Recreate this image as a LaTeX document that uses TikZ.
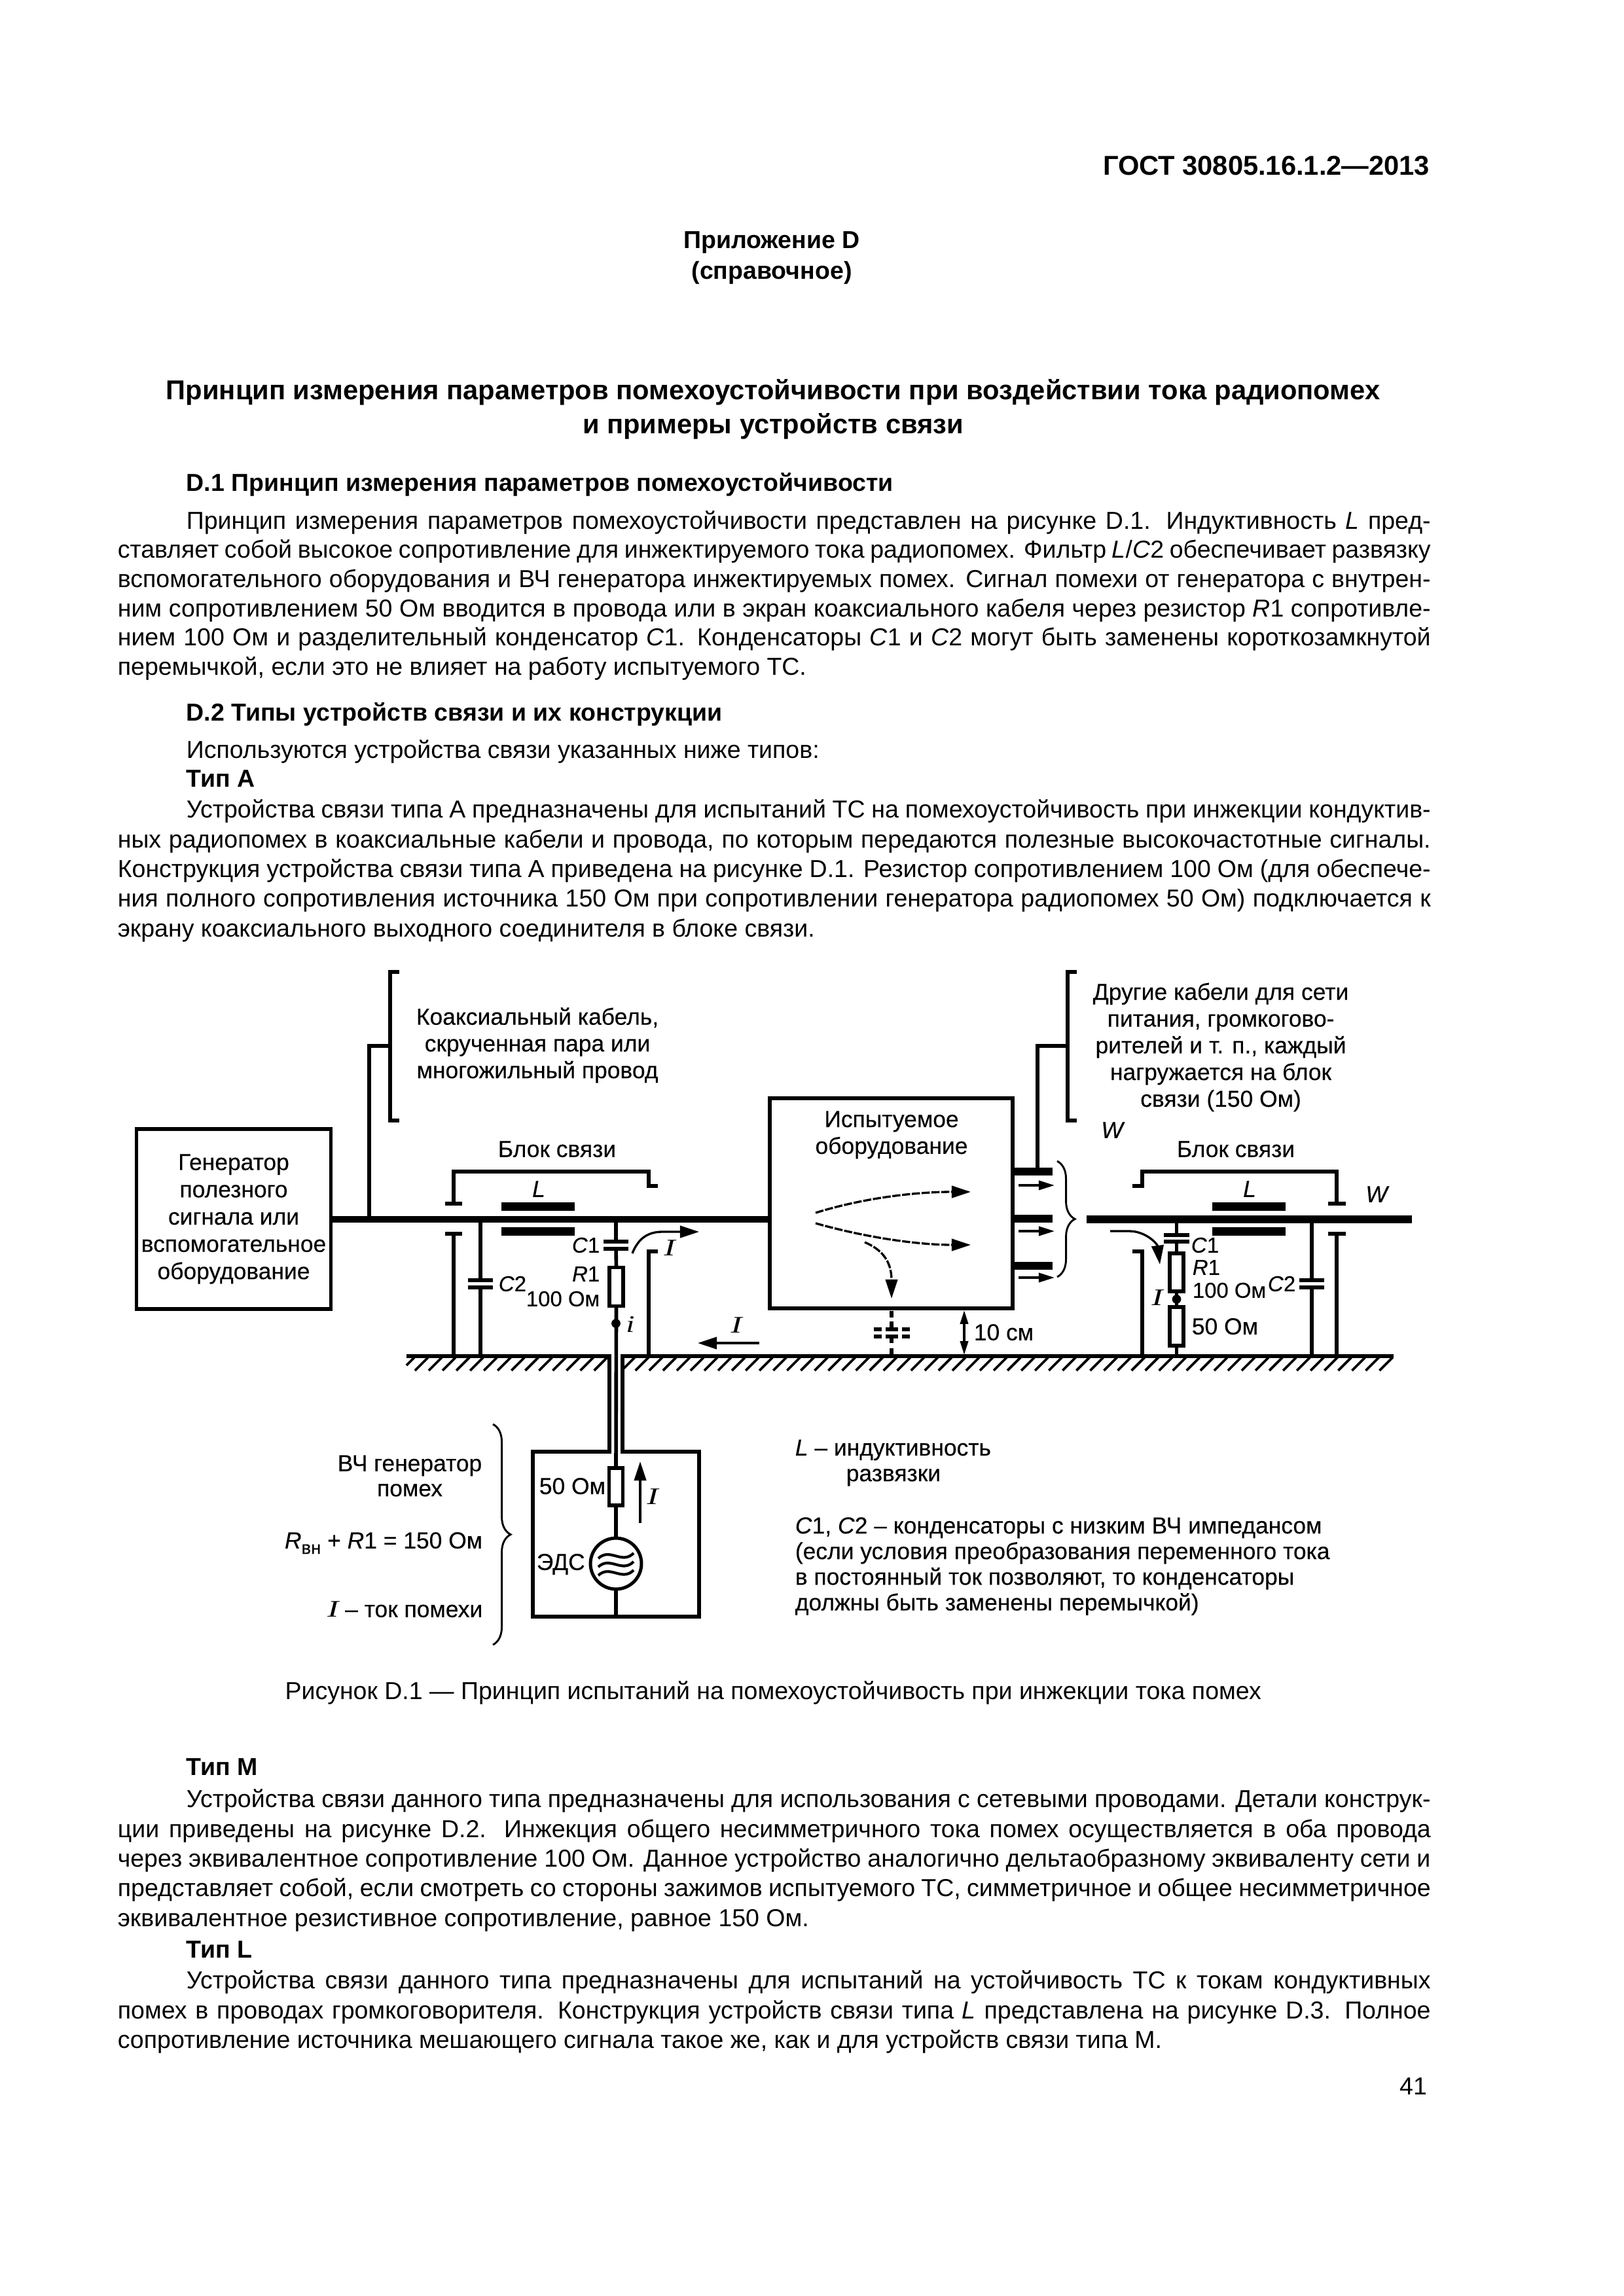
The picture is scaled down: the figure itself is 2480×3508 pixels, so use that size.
\documentclass[tikz,border=0pt]{standalone}
\usepackage{fontspec}
\setmainfont{Liberation Sans}
\newfontfamily\serfont{Liberation Serif}
\newfontfamily\labfont[FakeBold=0.25]{Liberation Sans}
\usetikzlibrary{arrows.meta,decorations.pathreplacing}
\newcommand{\jline}[1]{\makebox[481.4pt][s]{\strut #1}}
\newcommand{\curI}{\scalebox{1.4}[1]{\serfont\fontsize{8.7}{10}\selectfont\itshape I}}
\tikzset{
  wire/.style={line width=1.35pt},
  bus/.style={line width=2.4pt},
  fatbus/.style={line width=3.1pt},
  thin wire/.style={line width=0.8pt},
  res/.style={draw,line width=1.3pt,fill=white,inner sep=0pt,outer sep=0pt,minimum width=5pt,minimum height=14.2pt},
  blockbox/.style={draw,line width=1.4pt,inner sep=0pt,outer sep=0pt,align=center},
  lab/.style={inner sep=0pt,font=\labfont\fontsize{8.5}{10}\selectfont,text height=6pt,text depth=1.8pt},
  labs/.style={inner sep=0pt,font=\labfont\fontsize{7.9}{10}\selectfont,text height=6pt,text depth=1.8pt},
  labm/.style={inner sep=0pt,font=\labfont\fontsize{8.5}{9.8}\selectfont,align=center},
  labn/.style={inner sep=0pt,anchor=west,font=\labfont\fontsize{8.5}{9.4}\selectfont,align=left},
  body/.style={inner sep=0pt,anchor=north west,align=left,font=\fontsize{9}{10.9}\selectfont},
  head/.style={inner sep=0pt,anchor=west,font=\fontsize{9}{12}\selectfont\bfseries,text height=7pt,text depth=2pt},
  plain/.style={inner sep=0pt,font=\fontsize{9}{12}\selectfont,text height=7pt,text depth=2pt},
  bighead/.style={-{Triangle[length=7pt,width=4.4pt]}},
  smallhead/.style={-{Triangle[length=5.8pt,width=3.4pt]}},
  flow/.style={line width=0.8pt,dash pattern=on 3pt off 0.6pt},
  hatch/.style={line width=0.9pt},
  curly/.style={line width=0.7pt,decorate,decoration={brace,amplitude=6.5pt}}
}
\begin{document}
\begin{tikzpicture}[x=0.24pt,y=-0.24pt]
    \useasboundingbox (0,0) rectangle (2480,3508);
    \node[inner sep=0pt,anchor=east,font=\fontsize{10}{12}\selectfont\bfseries] (gost) at (2185,253) {ГОСТ 30805.16.1.2—2013};
    \node[inner sep=0pt,align=center,font=\fontsize{9}{11.2}\selectfont\bfseries] (annex) at (1179,394) {Приложение D\\(справочное)};
    \node[inner sep=0pt,align=center,font=\fontsize{10}{12.4}\selectfont\bfseries] (title) at (1181,625) {Принцип измерения параметров помехоустойчивости при воздействии тока радиопомех\\и примеры устройств связи};
    \node[head] (done) at (284,740) {D.1 Принцип измерения параметров помехоустойчивости};
    \node[body,font=\fontsize{9}{10.72}\selectfont] (parone) at (179,776) {\jline{\hspace*{25.2pt}Принцип измерения параметров помехоустойчивости представлен на рисунке D.1. Индуктивность \textit{L} пред-}\\
      \jline{ставляет собой высокое сопротивление для инжектируемого тока радиопомех. Фильтр \textit{L}/\textit{C}2 обеспечивает развязку}\\
      \jline{вспомогательного оборудования и ВЧ генератора инжектируемых помех. Сигнал помехи от генератора с внутрен-}\\
      \jline{ним сопротивлением 50 Ом вводится в провода или в экран коаксиального кабеля через резистор \textit{R}1 сопротивле-}\\
      \jline{нием 100 Ом и разделительный конденсатор \textit{C}1. Конденсаторы \textit{C}1 и \textit{C}2 могут быть заменены короткозамкнутой}\\
      \strut перемычкой, если это не влияет на работу испытуемого ТС.};
    \node[head] (dtwo) at (284,1091) {D.2 Типы устройств связи и их конструкции};
    \node[plain,anchor=west] (used) at (284,1148) {Используются устройства связи указанных ниже типов:};
    \node[head] (typea) at (284,1192) {Тип А};
    \node[body] (para) at (179,1217) {\jline{\hspace*{25.2pt}Устройства связи типа А предназначены для испытаний ТС на помехоустойчивость при инжекции кондуктив-}\\
      \jline{ных радиопомех в коаксиальные кабели и провода, по которым передаются полезные высокочастотные сигналы.}\\
      \jline{Конструкция устройства связи типа А приведена на рисунке D.1. Резистор сопротивлением 100 Ом (для обеспече-}\\
      \jline{ния полного сопротивления источника 150 Ом при сопротивлении генератора радиопомех 50 Ом) подключается к}\\
      \strut экрану коаксиального выходного соединителя в блоке связи.};
    \node[blockbox,minimum width=71.3pt,minimum height=66pt,font=\labfont\fontsize{8.5}{10}\selectfont] (gen) at (357,1862.5) {Генератор\\полезного\\сигнала или\\вспомогательное\\оборудование};
    \node[blockbox,minimum width=89pt,minimum height=77pt] (dut) at (1361.5,1838.5) {};
    \node[labm] (duttext) at (1362,1734) {Испытуемое\\оборудование};
    \node[labm] (coaxtext) at (821,1597) {Коаксиальный кабель,\\скрученная пара или\\многожильный провод};
    \node[labm] (othertext) at (1865,1600) {Другие кабели для сети\\питания, громкогово-\\рителей и т. п., каждый\\нагружается на блок\\связи (150 Ом)};
    \coordinate (junc) at (564,1863);
    \coordinate (brtop) at (596,1598);
    \draw[bus] (gen.east |- junc) -- (dut.west |- junc);
    \draw[wire] (junc) -- (junc |- brtop) -- (brtop);
    \draw[wire] (610,1485) -- (596,1485) -- (596,1712) -- (610,1712);
    \coordinate (stubtop) at (1585,1790);
    \draw[wire] (stubtop) -- (1585,1598) -- (1631,1598);
    \draw[wire] (1645,1485) -- (1631,1485) -- (1631,1712) -- (1645,1712);
    \foreach \sy in {1790,1862,1934}
      \draw[fatbus] (1547,\sy) -- (1608,\sy);
    \foreach \sy in {1811,1881,1952}
      \draw[thin wire,smallhead] (1556,\sy) -- (1611,\sy);
    \draw[curly] (1615,1774) -- (1615,1951);
    \coordinate (gndl) at (621,2072);
    \coordinate (gndr) at (2129,2072);
    \coordinate (coaxl) at (931,2072);
    \coordinate (coaxr) at (951,2072);
    \draw[wire] (gndl) -- (coaxl) -- (931,2218) -- (814,2218) -- (814,2470) -- (1068,2470) -- (1068,2218) -- (951,2218) -- (coaxr) -- (gndr);
    \draw[hatch] (633,2074) -- (621,2086);
    \foreach \k in {-1,...,12,14,15,...,69}
      \draw[hatch] ({675+21.05*\k},2074) -- ({655+21.05*\k},2094);
    % left coupling block
    \node[lab] (blockl) at (851,1759) {Блок связи};
    \draw[wire] (693,1839) -- (693,1790) -- (991,1790) -- (991,1812) -- (1005,1812);
    \draw[wire] (680,1839) -- (706,1839);
    \draw[wire] (680,1885) -- (706,1885);
    \draw[wire] (693,1885) -- (693,2072);
    \draw[wire] (1005,1912) -- (991,1912) -- (991,2072);
    \draw[wire] (734,1863) -- (734,1956);
    \draw[wire] (734,1967) -- (734,2072);
    \draw[wire] (715,1956) -- (753,1956);
    \draw[wire] (715,1967) -- (753,1967);
    \draw[fatbus] (766,1843.5) -- (878,1843.5);
    \draw[fatbus] (766,1881.5) -- (878,1881.5);
    \node[lab] (ll) at (823,1820) {\textit{L}};
    \node[labs,anchor=west] (cbl) at (761,1964) {\textit{C}2};
    \node[res] (ronel) at (941.5,1966) {};
    \node[res,minimum height=13.7pt] (rfifty) at (941,2271.5) {};
    \node[circle,draw,line width=1.2pt,inner sep=0pt,outer sep=0pt,minimum size=18.7pt] (emf) at (941,2389) {};
    \draw[wire] (941,1863) -- (941,1897);
    \draw[wire] (922,1897) -- (960,1897);
    \draw[wire] (922,1908) -- (960,1908);
    \draw[wire] (941,1908) -- (ronel.north);
    \draw[wire] (ronel.south) -- (rfifty.north);
    \draw[wire] (rfifty.south) -- (emf.north);
    \draw[wire] (emf.south) -- (941,2470);
    \foreach \wy in {2377,2390,2403}
      \draw[line width=1pt] (914,{\wy+4}) .. controls (932,{\wy-13}) and (950,{\wy+14}) .. (968,{\wy-4});
    \node[circle,fill,inner sep=0pt,minimum size=3.3pt] (dotl) at (941,2022) {};
    \node[labs,anchor=east] (cal) at (917,1905) {\textit{C}1};
    \node[labs,anchor=east] (ral) at (917,1949) {\textit{R}1};
    \node[labs,anchor=east] (rvl) at (917,1987) {100 Ом};
    \node[inner sep=0pt] (il) at (963,2023) {\scalebox{1.3}[1]{\serfont\fontsize{8.7}{10}\selectfont\itshape i}};
    \draw[line width=0.8pt,bighead] (966,1915) .. controls (975,1892) and (990,1882) .. (1012,1882) -- (1068,1882);
    \node[inner sep=0pt] (ia) at (1023,1907) {\curI};
    \coordinate (ileft) at (1160,2052);
    \coordinate (iright) at (1066,2052);
    \draw[thin wire,bighead] (ileft) -- (iright);
    \node[inner sep=0pt] (ib) at (1125,2025) {\curI};
    % equipment under test
    \draw[flow,bighead] (1246,1853) .. controls (1320,1830) and (1400,1821) .. (1483,1821);
    \draw[flow,bighead] (1246,1869) .. controls (1320,1890) and (1400,1902) .. (1483,1902);
    \draw[flow,bighead] (1321,1898) .. controls (1345,1908) and (1362,1925) .. (1362,1984);
    \draw[wire,dash pattern=on 2.5pt off 1.4pt] (1362,2003) -- (1362,2031);
    \draw[wire,dash pattern=on 2.5pt off 1.7pt] (1362,2042) -- (1362,2069);
    \draw[wire,dash pattern=on 2.9pt off 1.4pt on 4.6pt off 1.4pt on 2.9pt] (1335,2031) -- (1390,2031);
    \draw[wire,dash pattern=on 2.9pt off 1.4pt on 4.6pt off 1.4pt on 2.9pt] (1335,2042) -- (1390,2042);
    \coordinate (gaptop) at (1473,2002);
    \coordinate (gapbot) at (1473,2070);
    \draw[thin wire,{Triangle[length=5pt,width=2.9pt]}-{Triangle[length=5pt,width=2.9pt]}] (gaptop) -- (gapbot);
    \node[lab,anchor=west] (gaplab) at (1487,2039) {10 см};
    \node[lab,font=\labfont\fontsize{8.5}{10}\selectfont\itshape] (wa) at (1699,1730) {W};
    % right coupling block
    \node[lab] (blockr) at (1888,1759) {Блок связи};
    \draw[fatbus] (1660,1863) -- (2157,1863);
    \draw[wire] (1730,1812) -- (1745,1812) -- (1745,1790) -- (2042,1790) -- (2042,1839);
    \draw[wire] (2029,1839) -- (2056,1839);
    \draw[wire] (2029,1885) -- (2056,1885);
    \draw[wire] (2042,1885) -- (2042,2072);
    \draw[wire] (1730,1912) -- (1745,1912) -- (1745,2072);
    \draw[fatbus] (1852,1843.5) -- (1964,1843.5);
    \draw[fatbus] (1852,1881.5) -- (1964,1881.5);
    \node[lab] (lr) at (1909,1820) {\textit{L}};
    \node[lab,font=\labfont\fontsize{8.5}{10}\selectfont\itshape] (wb) at (2103,1828) {W};
    \draw[wire] (2004,1863) -- (2004,1956);
    \draw[wire] (2004,1967) -- (2004,2072);
    \draw[wire] (1985,1956) -- (2023,1956);
    \draw[wire] (1985,1967) -- (2023,1967);
    \node[labs,anchor=east] (cbr) at (1980,1964) {\textit{C}2};
    \node[res,minimum height=13.9pt] (roner) at (1797.5,1944) {};
    \node[res] (rload) at (1797.5,2026.5) {};
    \draw[wire] (1797.5,1863) -- (1797.5,1887);
    \draw[wire] (1778,1887) -- (1817,1887);
    \draw[wire] (1778,1897) -- (1817,1897);
    \draw[wire] (1797.5,1897) -- (roner.north);
    \draw[wire] (roner.south) -- (rload.north);
    \draw[wire] (rload.south) -- (1797.5,2072);
    \node[circle,fill,inner sep=0pt,minimum size=3.3pt] (dotr) at (1797.5,1985) {};
    \node[labs,anchor=west] (car) at (1819,1905) {\textit{C}1};
    \node[labs,anchor=west] (rar) at (1821,1939) {\textit{R}1};
    \node[labs,anchor=west] (rvr) at (1821,1974) {100 Ом};
    \node[lab,anchor=west] (rlr) at (1820,2030) {50 Ом};
    \node[inner sep=0pt] (ic) at (1768,1983) {\curI};
    \draw[thin wire,bighead] (1696,1881) -- (1725,1881) .. controls (1750,1881) and (1768,1900) .. (1772,1932);
    % interference generator
    \node[lab,anchor=west] (rgl) at (823,2274) {50 Ом};
    \node[lab,anchor=west] (emflab) at (819,2390) {ЭДС};
    \coordinate (ibot) at (978,2327);
    \coordinate (itop) at (978,2233);
    \draw[thin wire,bighead] (ibot) -- (itop);
    \node[inner sep=0pt] (id) at (997,2287) {\curI};
    \draw[curly] (753,2176) -- (753,2513);
    \node[labm,font=\labfont\fontsize{8.5}{9.2}\selectfont] (hfgen) at (626,2255) {ВЧ генератор\\помех};
    \node[lab,anchor=east] (rsum) at (738,2357) {\textit{R}\raisebox{-2pt}{\fontsize{6.6}{7}\selectfont вн} + \textit{R}1 = 150 Ом};
    \node[lab,anchor=east] (inote) at (738,2462) {\curI{} – ток помехи};
    \node[labn] (notel) at (1214,2235) {\textit{L} – индуктивность\\\hspace*{18.7pt}развязки};
    \node[labn] (notec) at (1214,2393) {\textit{C}1, \textit{C}2 – конденсаторы с низким ВЧ импедансом\\(если условия преобразования переменного тока\\в постоянный ток позволяют, то конденсаторы\\должны быть заменены перемычкой)};
    \node[plain] (figcap) at (1181,2586) {Рисунок D.1 — Принцип испытаний на помехоустойчивость при инжекции тока помех};
    \node[head] (typem) at (284,2702) {Тип М};
    \node[body] (parm) at (179,2729) {\jline{\hspace*{25.2pt}Устройства связи данного типа предназначены для использования с сетевыми проводами. Детали конструк-}\\
      \jline{ции приведены на рисунке D.2. Инжекция общего несимметричного тока помех осуществляется в оба провода}\\
      \jline{через эквивалентное сопротивление 100 Ом. Данное устройство аналогично дельтаобразному эквиваленту сети и}\\
      \jline{представляет собой, если смотреть со стороны зажимов испытуемого ТС, симметричное и общее несимметричное}\\
      \strut эквивалентное резистивное сопротивление, равное 150 Ом.};
    \node[head] (typel) at (284,2981) {Тип L};
    \node[body] (parl) at (179,3006) {\jline{\hspace*{25.2pt}Устройства связи данного типа предназначены для испытаний на устойчивость ТС к токам кондуктивных}\\
      \jline{помех в проводах громкоговорителя. Конструкция устройств связи типа \textit{L} представлена на рисунке D.3. Полное}\\
      \strut сопротивление источника мешающего сигнала такое же, как и для устройств связи типа М.};
    \node[plain] (pagenum) at (2159,3190) {41};
  \end{tikzpicture}
\end{document}
